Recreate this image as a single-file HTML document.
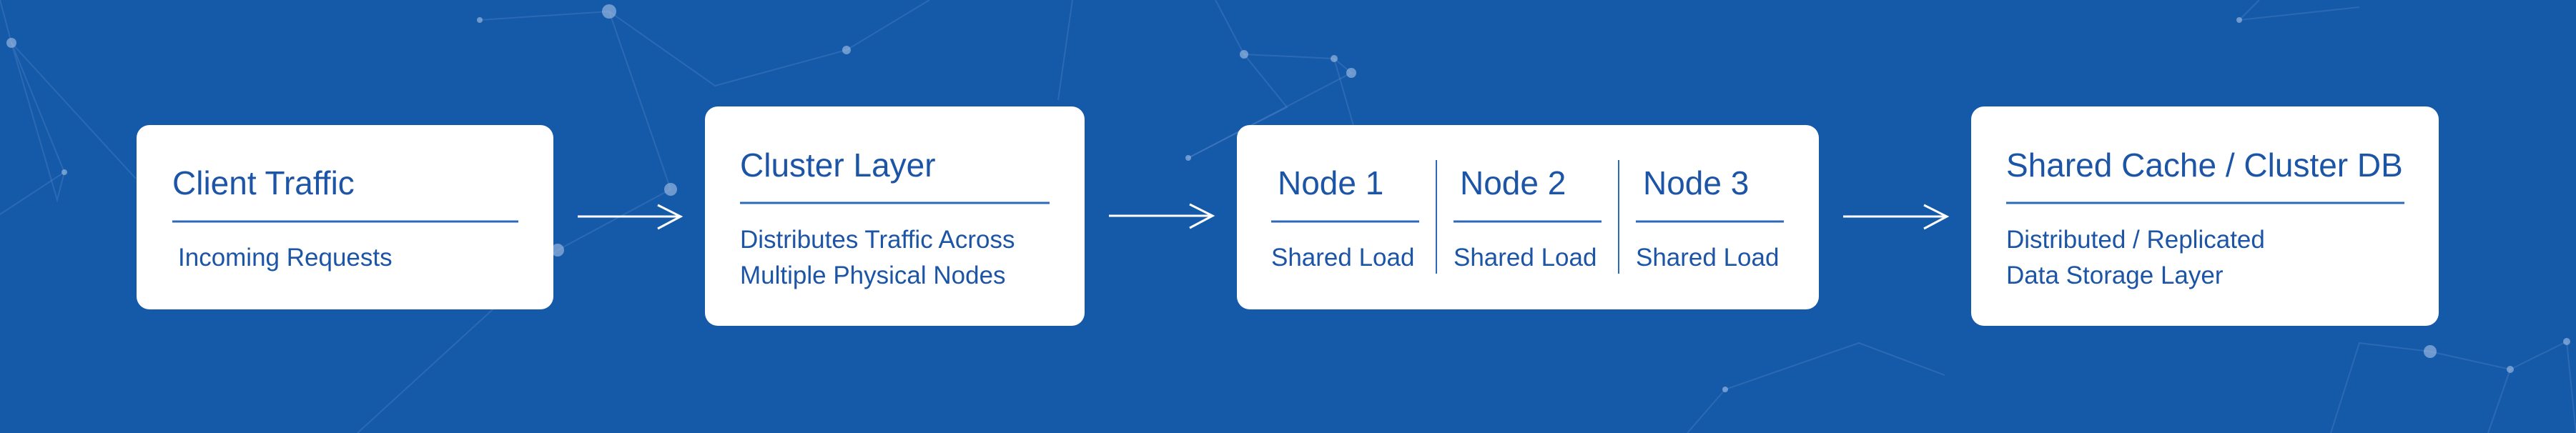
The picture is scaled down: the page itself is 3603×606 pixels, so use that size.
<!DOCTYPE html>
<html><head><meta charset="utf-8"><style>
html,body{margin:0;padding:0;background:#155aa8;}
svg{display:block}
text{font-family:"Liberation Sans",sans-serif;fill:#1d55a6;}
</style></head><body>
<svg width="3603" height="606" viewBox="0 0 3603 606" xmlns="http://www.w3.org/2000/svg">
<rect width="3603" height="606" fill="#155aa8"/>
<g stroke="#5f8fd0" stroke-opacity="0.3" stroke-width="2" fill="none">
<polyline points="16,60 90,241 80,280 16,60"/>
<polyline points="16,60 0,0"/><polyline points="16,60 190,250"/>
<polyline points="671,28 852,16 938,265 780,350"/>
<polyline points="852,16 1000,120 1184,70"/>
<polyline points="1740,76 1866,82 1890,102 1662,221"/>
<polyline points="1740,76 1700,0"/><polyline points="1866,82 1900,200"/>
<polyline points="1662,221 1800,150 1740,76"/>
<polyline points="3132,28 3160,0"/><polyline points="3132,28 3300,10"/>
<polyline points="3399,492 3511,517 3590,478 3603,606"/>
<polyline points="3399,492 3300,480 3260,606"/>
<polyline points="2413,545 2360,606"/><polyline points="2413,545 2600,480 2720,525"/>
<polyline points="3511,517 3480,606"/>
<polyline points="90,241 0,300"/><polyline points="780,350 500,606"/>
<polyline points="1184,70 1300,0"/><polyline points="1500,0 1480,140"/>
</g>
<g fill="#a9c3e8" fill-opacity="0.6">
<circle cx="16" cy="60" r="7"/><circle cx="671" cy="28" r="4"/><circle cx="852" cy="16" r="10"/>
<circle cx="1184" cy="70" r="6"/><circle cx="90" cy="241" r="4"/><circle cx="938" cy="265" r="9"/>
<circle cx="780" cy="350" r="9"/><circle cx="1740" cy="76" r="6"/><circle cx="1866" cy="82" r="5"/>
<circle cx="1890" cy="102" r="7"/><circle cx="1662" cy="221" r="4"/><circle cx="3132" cy="28" r="4"/>
<circle cx="3399" cy="492" r="9"/><circle cx="3511" cy="517" r="5"/><circle cx="3590" cy="478" r="5"/>
<circle cx="2413" cy="545" r="4"/>
</g>
<g fill="#fff">
<rect x="191" y="175" width="583" height="258" rx="18"/>
<rect x="986" y="149" width="531" height="307" rx="18"/>
<rect x="1730" y="175" width="814" height="258" rx="18"/>
<rect x="2757" y="149" width="654" height="307" rx="18"/>
</g>
<g stroke="#2e68b8" stroke-width="3">
<line x1="241" y1="310" x2="725" y2="310"/>
<line x1="1035" y1="284" x2="1468" y2="284"/>
<line x1="1778" y1="310" x2="1985" y2="310"/>
<line x1="2033" y1="310" x2="2240" y2="310"/>
<line x1="2288" y1="310" x2="2495" y2="310"/>
<line x1="2806" y1="284" x2="3363" y2="284"/>
</g>
<g stroke="#2e68b8" stroke-width="2">
<line x1="2009" y1="224" x2="2009" y2="383"/>
<line x1="2264" y1="224" x2="2264" y2="383"/>
</g>
<g stroke="#fff" stroke-width="3" fill="none">
<path d="M808 303 H952 M920 287 L952 303 L920 320"/>
<path d="M1551 302 H1696 M1664 286 L1696 302 L1664 319"/>
<path d="M2578 303 H2723 M2691 287 L2723 303 L2691 320"/>
</g>
<text x="241" y="272" font-size="46">Client Traffic</text>
<text x="249" y="372" font-size="35">Incoming Requests</text>
<text x="1035" y="247" font-size="46">Cluster Layer</text>
<text x="1035" y="347" font-size="35">Distributes Traffic Across</text>
<text x="1035" y="397" font-size="35">Multiple Physical Nodes</text>
<text x="1787" y="272" font-size="46">Node 1</text>
<text x="2042" y="272" font-size="46">Node 2</text>
<text x="2298" y="272" font-size="46">Node 3</text>
<text x="1778" y="372" font-size="35">Shared Load</text>
<text x="2033" y="372" font-size="35">Shared Load</text>
<text x="2288" y="372" font-size="35">Shared Load</text>
<text x="2806" y="247" font-size="46">Shared Cache / Cluster DB</text>
<text x="2806" y="347" font-size="35">Distributed / Replicated</text>
<text x="2806" y="397" font-size="35">Data Storage Layer</text>
</svg>
</body></html>
